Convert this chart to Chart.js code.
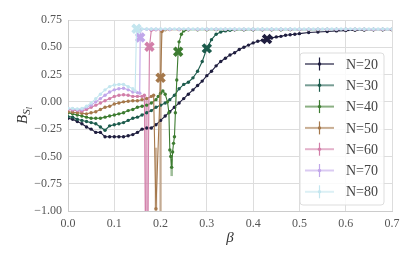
<!DOCTYPE html>
<html lang="en">
<head>
<meta charset="UTF-8">
<title>B_S vs beta</title>
<script src="https://cdn.jsdelivr.net/npm/chart.js"></script>
<style>
  html, body { margin: 0; padding: 0; background: #fff; }
</style>
</head>
<body>
<canvas id="bsChart" width="415" height="260"></canvas>
<script>
// values (beta, B_S) for each system size
var seriesLabels = ['N=20', 'N=30', 'N=40', 'N=50', 'N=60', 'N=70', 'N=80'];
var seriesColors = ['#1f1e3f', '#1c5b4c', '#3d7c31', '#a5784b', '#d27fa9', '#c1a7ea', '#c4e6ef'];
var critBeta = [0.43, 0.30, 0.238, 0.20, 0.176, 0.156, 0.148];

var n20Beta = [0.00,0.01,0.02,0.03,0.04,0.05,0.06,0.07,0.08,0.09,
  0.10,0.11,0.12,0.13,0.14,0.15,0.16,0.17,0.18,0.19,
  0.20,0.21,0.22,0.23,0.24,0.25,0.26,0.27,0.28,0.29,
  0.30,0.31,0.32,0.33,0.34,0.35,0.36,0.37,0.38,0.39,
  0.40,0.41,0.42,0.43,0.44,0.45,0.46,0.47,0.48,0.49,
  0.50,0.52,0.54,0.56,0.58,0.60,0.62,0.64,0.66,0.68,0.70];
var n20B = [-0.15,-0.16,-0.18,-0.20,-0.23,-0.25,-0.28,-0.28,-0.32,-0.32,
  -0.32,-0.32,-0.32,-0.31,-0.30,-0.28,-0.25,-0.24,-0.24,-0.21,
  -0.17,-0.13,-0.09,-0.05,-0.01,0.03,0.07,0.11,0.15,0.19,
  0.24,0.28,0.33,0.37,0.40,0.43,0.45,0.48,0.50,0.52,
  0.54,0.555,0.565,0.575,0.585,0.595,0.60,0.61,0.615,0.62,
  0.625,0.635,0.64,0.645,0.65,0.653,0.656,0.658,0.66,0.661,0.662];

var n30Beta = [0.00,0.01,0.02,0.03,0.04,0.05,0.06,0.07,0.08,0.09,
  0.10,0.11,0.12,0.13,0.14,0.15,0.16,0.17,0.18,0.19,
  0.20,0.21,0.22,0.23,0.24,0.25,0.26,0.27,0.28,0.29,
  0.30,0.31,0.32,0.33,0.34,0.35,0.36,
  0.38,0.40,0.42,0.44,0.46,0.48,0.50,0.52,0.54,0.56,0.58,0.60,0.62,0.64,0.66,0.68,0.70];
var n30B = [-0.135,-0.14,-0.16,-0.17,-0.18,-0.19,-0.20,-0.23,-0.26,-0.22,
  -0.21,-0.20,-0.19,-0.17,-0.15,-0.14,-0.12,-0.10,-0.08,-0.05,
  -0.03,-0.01,0.02,0.06,0.12,0.16,0.18,0.22,0.28,0.37,
  0.49,0.57,0.62,0.64,0.65,0.655,0.66,
  0.66,0.66,0.661,0.661,0.661,0.662,0.662,0.662,0.662,0.663,0.663,0.663,0.663,0.663,0.663,0.663,0.663];

var n40Beta = [0.00,0.01,0.02,0.03,0.04,0.05,0.06,0.07,0.08,0.09,
  0.10,0.11,0.12,0.13,0.14,0.15,0.16,0.17,0.18,0.19,
  0.195,0.20,0.205,0.21,0.215,0.218,0.22,0.222,0.224,0.226,0.228,0.23,0.232,0.235,0.238,0.24,0.245,0.25,0.26,
  0.28,0.30,0.32,0.34,0.36,0.38,0.40,0.42,0.44,0.46,0.48,0.50,0.52,0.54,0.56,0.58,0.60,0.62,0.64,0.66,0.68,0.70];
var n40B = [-0.10,-0.11,-0.12,-0.13,-0.14,-0.15,-0.15,-0.15,-0.14,-0.13,
  -0.12,-0.11,-0.10,-0.08,-0.07,-0.05,-0.04,-0.03,-0.01,0.02,
  0.05,0.08,0.10,0.07,0.00,-0.10,-0.44,-0.50,-0.60,-0.46,-0.38,-0.32,-0.10,0.20,0.46,0.55,0.62,0.65,0.66,
  0.661,0.661,0.662,0.662,0.662,0.662,0.663,0.663,0.663,0.663,0.663,0.663,0.663,0.663,0.663,0.663,0.663,0.663,0.663,0.663,0.663,0.663];

var n50Beta = [0.00,0.01,0.02,0.03,0.04,0.05,0.06,0.07,0.08,0.09,
  0.10,0.11,0.12,0.13,0.14,0.15,0.16,0.17,0.18,
  0.185,0.19,0.20,0.203,0.21,0.22,0.24,0.26,
  0.28,0.30,0.32,0.34,0.36,0.38,0.40,0.42,0.44,0.46,0.48,0.50,0.52,0.54,0.56,0.58,0.60,0.62,0.64,0.66,0.68,0.70];
var n50B = [-0.09,-0.095,-0.10,-0.105,-0.11,-0.10,-0.09,-0.07,-0.05,-0.04,
  -0.02,-0.01,0.00,0.005,0.01,0.01,0.02,0.03,0.05,
  0.06,-0.98,0.22,0.645,0.66,0.662,0.662,0.663,
  0.663,0.663,0.663,0.663,0.663,0.663,0.663,0.663,0.663,0.663,0.663,0.663,0.663,0.663,0.663,0.663,0.663,0.663,0.663,0.663,0.663,0.663];

var n60Beta = [0.00,0.01,0.02,0.03,0.04,0.05,0.06,0.07,0.08,0.09,
  0.10,0.11,0.12,0.13,0.14,0.15,0.16,
  0.165,0.168,0.172,0.176,0.18,0.19,0.20,0.22,0.24,0.26,
  0.28,0.30,0.32,0.34,0.36,0.38,0.40,0.42,0.44,0.46,0.48,0.50,0.52,0.54,0.56,0.58,0.60,0.62,0.64,0.66,0.68,0.70];
var n60B = [-0.07,-0.075,-0.08,-0.085,-0.07,-0.05,-0.03,-0.01,0.01,0.03,
  0.05,0.06,0.065,0.06,0.05,0.05,0.05,
  0.06,-1.30,-1.30,0.505,0.655,0.66,0.662,0.663,0.663,0.663,
  0.664,0.664,0.664,0.664,0.664,0.664,0.664,0.664,0.664,0.664,0.664,0.664,0.664,0.664,0.664,0.664,0.664,0.664,0.664,0.664,0.664,0.664];

var n70Beta = [0.00,0.01,0.02,0.03,0.04,0.05,0.06,0.07,0.08,0.09,
  0.10,0.11,0.12,0.13,0.14,0.15,
  0.155,0.156,0.158,0.17,0.18,0.19,
  0.20,0.22,0.24,0.26,0.28,0.30,0.32,0.34,0.36,0.38,0.40,0.42,0.44,0.46,0.48,0.50,0.52,0.54,0.56,0.58,0.60,0.62,0.64,0.66,0.68,0.70];
var n70B = [-0.06,-0.065,-0.07,-0.07,-0.05,-0.03,0.00,0.03,0.06,0.09,
  0.11,0.12,0.125,0.11,0.09,0.085,
  0.08,0.59,0.665,0.665,0.665,0.665,
  0.665,0.665,0.665,0.665,0.665,0.665,0.665,0.665,0.665,0.665,0.665,0.665,0.665,0.665,0.665,0.665,0.665,0.665,0.665,0.665,0.665,0.665,0.665,0.665,0.665,0.665];

var n80Beta = [0.00,0.01,0.02,0.03,0.04,0.05,0.06,0.07,0.08,0.09,
  0.10,0.11,0.12,0.13,0.14,
  0.145,0.148,0.15,
  0.16,0.17,0.18,0.19,0.20,0.21,0.22,0.23,0.24,0.25,0.26,0.27,0.28,0.29,
  0.30,0.31,0.32,0.33,0.34,0.35,0.36,0.37,0.38,0.39,0.40,0.41,0.42,0.43,0.44,0.45,0.46,0.47,0.48,0.49,
  0.50,0.51,0.52,0.53,0.54,0.55,0.56,0.57,0.58,0.59,0.60,0.61,0.62,0.63,0.64,0.65,0.66,0.67,0.68,0.69,0.70];
var n80B = [-0.06,-0.06,-0.065,-0.06,-0.04,-0.01,0.03,0.07,0.11,0.14,
  0.155,0.16,0.16,0.14,0.12,
  0.10,0.67,0.67,
  0.668,0.668,0.668,0.668,0.668,0.668,0.668,0.668,0.668,0.668,0.668,0.668,0.668,0.668,
  0.668,0.668,0.668,0.668,0.668,0.668,0.668,0.668,0.668,0.668,0.668,0.668,0.668,0.668,0.668,0.668,0.668,0.668,0.668,0.668,
  0.668,0.668,0.668,0.668,0.668,0.668,0.668,0.668,0.668,0.668,0.668,0.668,0.668,0.668,0.668,0.668,0.668,0.668,0.668,0.668,0.668];

// the few error bars that are big enough to see: [beta, low, high]
var n40Err = [[0.224, -0.68, -0.52]];
var n50Err = [[0.19, -1.0, -0.42], [0.20, -1.0, 0.65]];
var n60Err = [[0.168, -1.5, 0.05], [0.172, -1.5, 0.03]];

var allBeta = [n20Beta, n30Beta, n40Beta, n50Beta, n60Beta, n70Beta, n80Beta];
var allB = [n20B, n30B, n40B, n50B, n60B, n70B, n80B];
var allErr = [[], [], n40Err, n50Err, n60Err, [], []];

function hexA(hex, a) {
  var r = parseInt(hex.slice(1, 3), 16), g = parseInt(hex.slice(3, 5), 16), b = parseInt(hex.slice(5, 7), 16);
  return 'rgba(' + r + ',' + g + ',' + b + ',' + a + ')';
}

var datasets = seriesLabels.map(function (lab, i) {
  var pts = allBeta[i].map(function (b, j) { return { x: b, y: allB[i][j] }; });
  var isCrit = function (ctx) { return ctx.raw && Math.abs(ctx.raw.x - critBeta[i]) < 1e-9; };
  return {
    label: lab,
    data: pts,
    showLine: true,
    borderColor: seriesColors[i],
    backgroundColor: seriesColors[i],
    borderWidth: 1.1,
    order: seriesLabels.length - i,
    errBars: allErr[i],
    pointStyle: function (ctx) { return isCrit(ctx) ? 'crossRot' : 'circle'; },
    pointRadius: function (ctx) { return isCrit(ctx) ? 5.5 : 1.7; },
    pointBorderWidth: function (ctx) { return isCrit(ctx) ? 3.8 : 0; },
    pointBorderColor: seriesColors[i],
    pointBackgroundColor: seriesColors[i]
  };
});

var serif = '"Liberation Serif", "DejaVu Serif", serif';

var errorBarPlugin = {
  id: 'errorBars',
  beforeDatasetsDraw: function (chart) {
    var ctx = chart.ctx, xs = chart.scales.x, ys = chart.scales.y, a = chart.chartArea;
    ctx.save();
    ctx.beginPath();
    ctx.rect(a.left, a.top, a.right - a.left, a.bottom - a.top);
    ctx.clip();
    chart.data.datasets.forEach(function (ds, i) {
      (ds.errBars || []).forEach(function (e) {
        var px = xs.getPixelForValue(e[0]);
        ctx.strokeStyle = hexA(seriesColors[i], 0.5);
        ctx.lineWidth = 2.5;
        ctx.beginPath();
        ctx.moveTo(px, ys.getPixelForValue(e[1]));
        ctx.lineTo(px, ys.getPixelForValue(e[2]));
        ctx.stroke();
      });
    });
    ctx.restore();
  }
};

var decorPlugin = {
  id: 'decor',
  afterDraw: function (chart) {
    var ctx = chart.ctx, a = chart.chartArea;
    ctx.save();
    // x axis title
    ctx.fillStyle = '#333';
    ctx.font = 'italic 15px ' + serif;
    ctx.textAlign = 'center';
    ctx.textBaseline = 'middle';
    ctx.fillText('\u03b2', (a.left + a.right) / 2, 238);

    // y axis title B_{S_l}
    ctx.translate(22, (a.top + a.bottom) / 2);
    ctx.rotate(-Math.PI / 2);
    ctx.textAlign = 'left';
    ctx.textBaseline = 'alphabetic';
    ctx.font = 'italic 15px ' + serif;
    var wB = ctx.measureText('B').width;
    ctx.font = 'italic 11px ' + serif;
    var wS = ctx.measureText('S').width;
    ctx.font = 'italic 8px ' + serif;
    var wl = ctx.measureText('l').width;
    var x0 = -(wB + wS + wl) / 2;
    ctx.font = 'italic 15px ' + serif;
    ctx.fillText('B', x0, 5);
    ctx.font = 'italic 11px ' + serif;
    ctx.fillText('S', x0 + wB, 8);
    ctx.font = 'italic 8px ' + serif;
    ctx.fillText('l', x0 + wB + wS, 10);
    ctx.restore();

    // legend
    ctx.save();
    var bx = 300, by = 53, bw = 84, bh = 152, r = 3;
    ctx.fillStyle = 'rgba(255,255,255,0.85)';
    ctx.strokeStyle = '#dddddd';
    ctx.lineWidth = 1;
    ctx.beginPath();
    ctx.moveTo(bx + r, by);
    ctx.arcTo(bx + bw, by, bx + bw, by + bh, r);
    ctx.arcTo(bx + bw, by + bh, bx, by + bh, r);
    ctx.arcTo(bx, by + bh, bx, by, r);
    ctx.arcTo(bx, by, bx + bw, by, r);
    ctx.closePath();
    ctx.fill();
    ctx.stroke();
    seriesLabels.forEach(function (lab, i) {
      var y = 64 + i * 21.3;
      ctx.strokeStyle = hexA(seriesColors[i], 0.6);
      ctx.lineWidth = 2;
      ctx.beginPath();
      ctx.moveTo(305, y);
      ctx.lineTo(334, y);
      ctx.stroke();
      ctx.strokeStyle = seriesColors[i];
      ctx.lineWidth = 1.2;
      ctx.beginPath();
      ctx.moveTo(319.5, y - 6.5);
      ctx.lineTo(319.5, y + 6.5);
      ctx.stroke();
      ctx.fillStyle = seriesColors[i];
      ctx.beginPath();
      ctx.arc(319.5, y, 1.7, 0, Math.PI * 2);
      ctx.fill();
      ctx.fillStyle = '#444';
      ctx.font = '14px ' + serif;
      ctx.textAlign = 'left';
      ctx.textBaseline = 'middle';
      ctx.fillText(lab, 346, y + 1);
    });
    ctx.restore();
  }
};

var chart = new Chart(document.getElementById('bsChart').getContext('2d'), {
  type: 'scatter',
  data: { datasets: datasets },
  options: {
    responsive: false,
    animation: false,
    layout: { padding: { left: 0, top: 20, right: 23, bottom: 0 } },
    plugins: { legend: { display: false }, tooltip: { enabled: false } },
    scales: {
      x: {
        type: 'linear', min: 0, max: 0.7,
        afterFit: function (s) { s.height = 49; },
        ticks: {
          stepSize: 0.1, padding: 6, color: '#555',
          font: { family: serif, size: 12 },
          callback: function (v) { return v.toFixed(1); }
        },
        grid: { color: '#dddddd', drawTicks: false },
        border: { color: '#cccccc' }
      },
      y: {
        min: -1, max: 0.75,
        afterFit: function (s) { s.width = 68; },
        ticks: {
          stepSize: 0.25, padding: 6, color: '#555',
          font: { family: serif, size: 12 },
          callback: function (v) { return v.toFixed(2).replace('-', '\u2212'); }
        },
        grid: { color: '#dddddd', drawTicks: false },
        border: { color: '#cccccc' }
      }
    }
  },
  plugins: [errorBarPlugin, decorPlugin]
});
</script>
</body>
</html>
